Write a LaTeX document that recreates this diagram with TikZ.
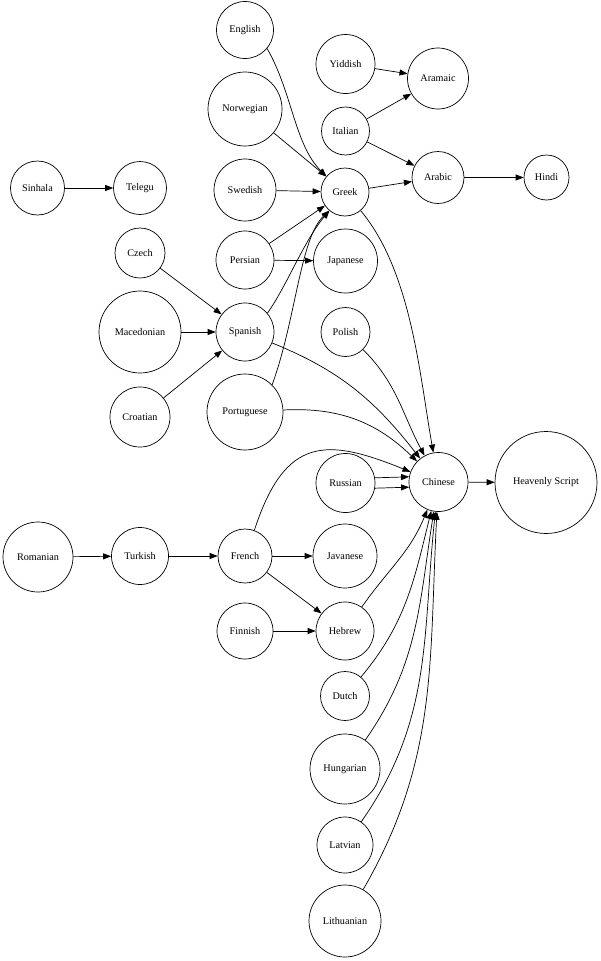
\documentclass[tikz,border=0pt]{standalone}
\usepackage{fontspec}
\setmainfont{Liberation Serif}
\usetikzlibrary{arrows.meta}

\begin{document}
\begin{tikzpicture}[x=1pt,y=1pt,
  lang/.style={circle,draw,line width=0.7pt,inner sep=0pt,minimum size=#1,font=\fontsize{10.2}{12}\selectfont},
  arr/.style={-{Triangle[length=8pt,width=6pt]},line width=0.7pt}]

\useasboundingbox (0,0) rectangle (600,-961);

%first column
\node[lang=54] (sinhala) at (37.5,-188) {Sinhala};
\node[lang=70] (romanian) at (38,-557) {Romanian};

%second column
\node[lang=53] (telegu) at (140,-188) {Telegu};
\node[lang=50] (czech) at (140,-253) {Czech};
\node[lang=82] (macedonian) at (140,-332) {Macedonian};
\node[lang=60] (croatian) at (140,-417) {Croatian};
\node[lang=57] (turkish) at (140,-556) {Turkish};

%third column
\node[lang=57] (english) at (245,-30) {English};
\node[lang=74] (norwegian) at (245,-109) {Norwegian};
\node[lang=62] (swedish) at (245,-190) {Swedish};
\node[lang=58] (persian) at (245,-260) {Persian};
\node[lang=58] (spanish) at (245,-332) {Spanish};
\node[lang=76] (portuguese) at (245,-412) {Portuguese};
\node[lang=54] (french) at (245,-556) {French};
\node[lang=56] (finnish) at (245,-631) {Finnish};

%fourth column
\node[lang=59] (yiddish) at (345.5,-64) {Yiddish};
\node[lang=48] (italian) at (345.5,-131) {Italian};
\node[lang=48] (greek) at (345,-192) {Greek};
\node[lang=64] (japanese) at (345.5,-261) {Japanese};
\node[lang=49] (polish) at (345.5,-332) {Polish};
\node[lang=59] (russian) at (345.5,-483) {Russian};
\node[lang=64] (javanese) at (345,-556) {Javanese};
\node[lang=58] (hebrew) at (345,-631) {Hebrew};
\node[lang=49] (dutch) at (345,-696) {Dutch};
\node[lang=70] (hungarian) at (345,-769) {Hungarian};
\node[lang=56] (latvian) at (345,-845) {Latvian};
\node[lang=72] (lithuanian) at (345,-921) {Lithuanian};

%fifth column
\node[lang=61] (aramaic) at (438,-78.5) {Aramaic};
\node[lang=52] (arabic) at (438,-177.5) {Arabic};
\node[lang=59] (chinese) at (438.5,-482) {Chinese};

%last column
\node[lang=45] (hindi) at (546.5,-177.5) {Hindi};
\node[lang=102] (heavenly) at (546,-482.5) {Heavenly Script};

%straight edges
\draw[arr] (sinhala) -- (telegu);
\draw[arr] (czech) -- (spanish);
\draw[arr] (macedonian) -- (spanish);
\draw[arr] (croatian) -- (spanish);
\draw[arr] (norwegian) -- (greek);
\draw[arr] (swedish) -- (greek);
\draw[arr] (persian) -- (greek);
\draw[arr] (persian) -- (japanese);
\draw[arr] (yiddish) -- (aramaic);
\draw[arr] (italian) -- (aramaic);
\draw[arr] (italian) -- (arabic);
\draw[arr] (greek) -- (arabic);
\draw[arr] (arabic) -- (hindi);
\draw[arr] (russian.10) -- (chinese.170);
\draw[arr] (russian.-10) -- (chinese.-170);
\draw[arr] (chinese) -- (heavenly);
\draw[arr] (romanian) -- (turkish);
\draw[arr] (turkish) -- (french);
\draw[arr] (french) -- (javanese);
\draw[arr] (french) -- (hebrew);
\draw[arr] (finnish) -- (hebrew);

%curved edges into greek
\draw[arr] (english.-40) .. controls +(-60:50) and +(135:45) .. (greek.140);
\draw[arr] (spanish.40) .. controls +(55:35) and +(-130:40) .. (greek.-130);
\draw[arr] (portuguese.45) .. controls +(70:70) and +(-137:40) .. (greek.-130);

%curved edges into chinese, from above
\draw[arr] (greek) to[out=-50,in=100,looseness=0.8] (chinese);
\draw[arr] (polish) to[out=-45,in=118] (chinese);
\draw[arr] (spanish) to[out=-22,in=128] (chinese);
\draw[arr] (portuguese) to[out=3,in=136] (chinese);
\draw[arr] (french.70) .. controls +(72:100) and +(158:90) .. (chinese.160);

%curved edges into chinese, from below
\draw[arr] (hebrew) to[out=55,in=-112] (chinese);
\draw[arr] (dutch) to[out=50,in=-104] (chinese);
\draw[arr] (hungarian) to[out=55,in=-99] (chinese);
\draw[arr] (latvian) to[out=55,in=-96] (chinese);
\draw[arr] (lithuanian) to[out=60,in=-93] (chinese);

\end{tikzpicture}
\end{document}
